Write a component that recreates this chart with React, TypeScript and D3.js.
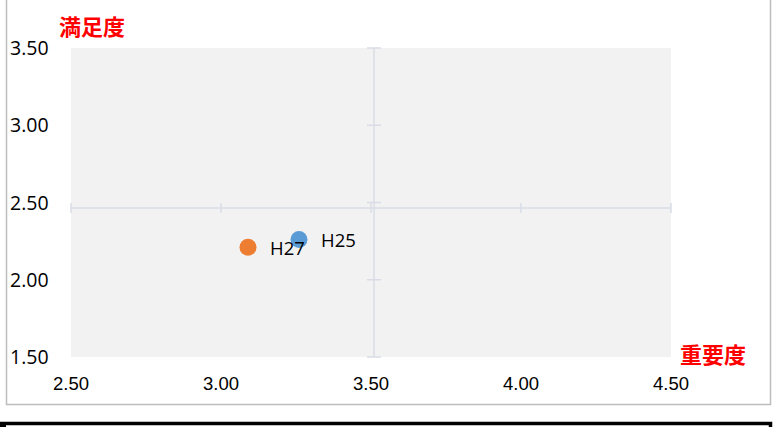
import { scaleLinear } from 'd3'

type Survey = {
  label: string
  importance: number
  satisfaction: number
  color: string
}

const surveyLabels = ['H25', 'H27']
const importanceValues = [3.26, 3.09]
const satisfactionValues = [2.26, 2.21]
const pointColors = ['#5b9bd5', '#ed7d31']

const xTicks = [2.5, 3.0, 3.5, 4.0, 4.5]
const yTicks = [1.5, 2.0, 2.5, 3.0, 3.5]

// axes cross at these values (not at the grid centre)
const xAxisCross = 3.51
const yAxisCross = 2.464

const chartWidth = 773
const chartHeight = 427

const plot = {
  left: 71,
  right: 671,
  top: 48,
  bottom: 357,
}

const axisColor = '#d9dce6'

function App() {
  const xScale = scaleLinear().domain([2.5, 4.5]).range([plot.left, plot.right])
  const yScale = scaleLinear().domain([1.5, 3.5]).range([plot.bottom, plot.top])

  const points: Survey[] = surveyLabels.map((label, i) => ({
    label,
    importance: importanceValues[i],
    satisfaction: satisfactionValues[i],
    color: pointColors[i],
  }))

  const axisX = xScale(xAxisCross)
  const axisY = yScale(yAxisCross)

  return (
    <svg
      width={chartWidth}
      height={chartHeight}
      viewBox={`0 0 ${chartWidth} ${chartHeight}`}
      style={{ position: 'absolute', left: 0, top: 0, background: '#fff' }}
    >
      {/* outer frame */}
      <rect x={6.5} y={-2} width={764} height={406.5} fill="#fff" stroke="#bdbdbd" strokeWidth={1.5} />

      {/* box below the chart */}
      <rect x={1.5} y={423.5} width={769} height={20} fill="#fff" stroke="#000" strokeWidth={3.5} />
      <rect x={0} y={422} width={6} height={6} fill="#000" />

      <rect
        x={plot.left}
        y={plot.top}
        width={plot.right - plot.left}
        height={plot.bottom - plot.top}
        fill="#f2f2f2"
      />

      {/* horizontal axis */}
      <line x1={plot.left} x2={plot.right} y1={axisY} y2={axisY} stroke={axisColor} strokeWidth={1.5} />
      {xTicks.map((tick) => (
        <line
          key={`xt-${tick}`}
          x1={xScale(tick)}
          x2={xScale(tick)}
          y1={axisY - 5}
          y2={axisY + 5}
          stroke={axisColor}
          strokeWidth={1.5}
        />
      ))}

      {/* vertical axis */}
      <line x1={axisX} x2={axisX} y1={plot.top} y2={plot.bottom} stroke={axisColor} strokeWidth={1.5} />
      {yTicks.map((tick) => (
        <line
          key={`yt-${tick}`}
          x1={axisX - 7}
          x2={axisX + 7}
          y1={yScale(tick)}
          y2={yScale(tick)}
          stroke={axisColor}
          strokeWidth={1.5}
        />
      ))}

      {yTicks.map((tick) => (
        <text
          key={`yl-${tick}`}
          x={10}
          y={yScale(tick)}
          dy="0.36em"
          fontFamily="'Open Sans', sans-serif"
          fontSize={19.5}
          fill="#000"
        >
          {tick.toFixed(2)}
        </text>
      ))}

      {xTicks.map((tick) => (
        <text
          key={`xl-${tick}`}
          x={xScale(tick)}
          y={390}
          textAnchor="middle"
          fontFamily="'Liberation Sans', Arial, sans-serif"
          fontSize={18.5}
          fill="#000"
        >
          {tick.toFixed(2)}
        </text>
      ))}

      {points.map((p) => (
        <circle
          key={p.label}
          cx={xScale(p.importance)}
          cy={yScale(p.satisfaction)}
          r={8.5}
          fill={p.color}
        />
      ))}

      {points.map((p) => (
        <text
          key={`${p.label}-label`}
          x={xScale(p.importance) + 22}
          y={yScale(p.satisfaction) + 1}
          dy="0.36em"
          fontFamily="'Open Sans', sans-serif"
          fontSize={18.5}
          fill="#000"
        >
          {p.label}
        </text>
      ))}

      <text
        x={59}
        y={27}
        dy="0.36em"
        fontFamily="'Noto Sans CJK JP', sans-serif"
        fontWeight="bold"
        fontSize={22}
        fill="#ff0000"
      >
        満足度
      </text>
      <text
        x={680}
        y={355}
        dy="0.36em"
        fontFamily="'Noto Sans CJK JP', sans-serif"
        fontWeight="bold"
        fontSize={22}
        fill="#ff0000"
      >
        重要度
      </text>
    </svg>
  )
}

export default App
